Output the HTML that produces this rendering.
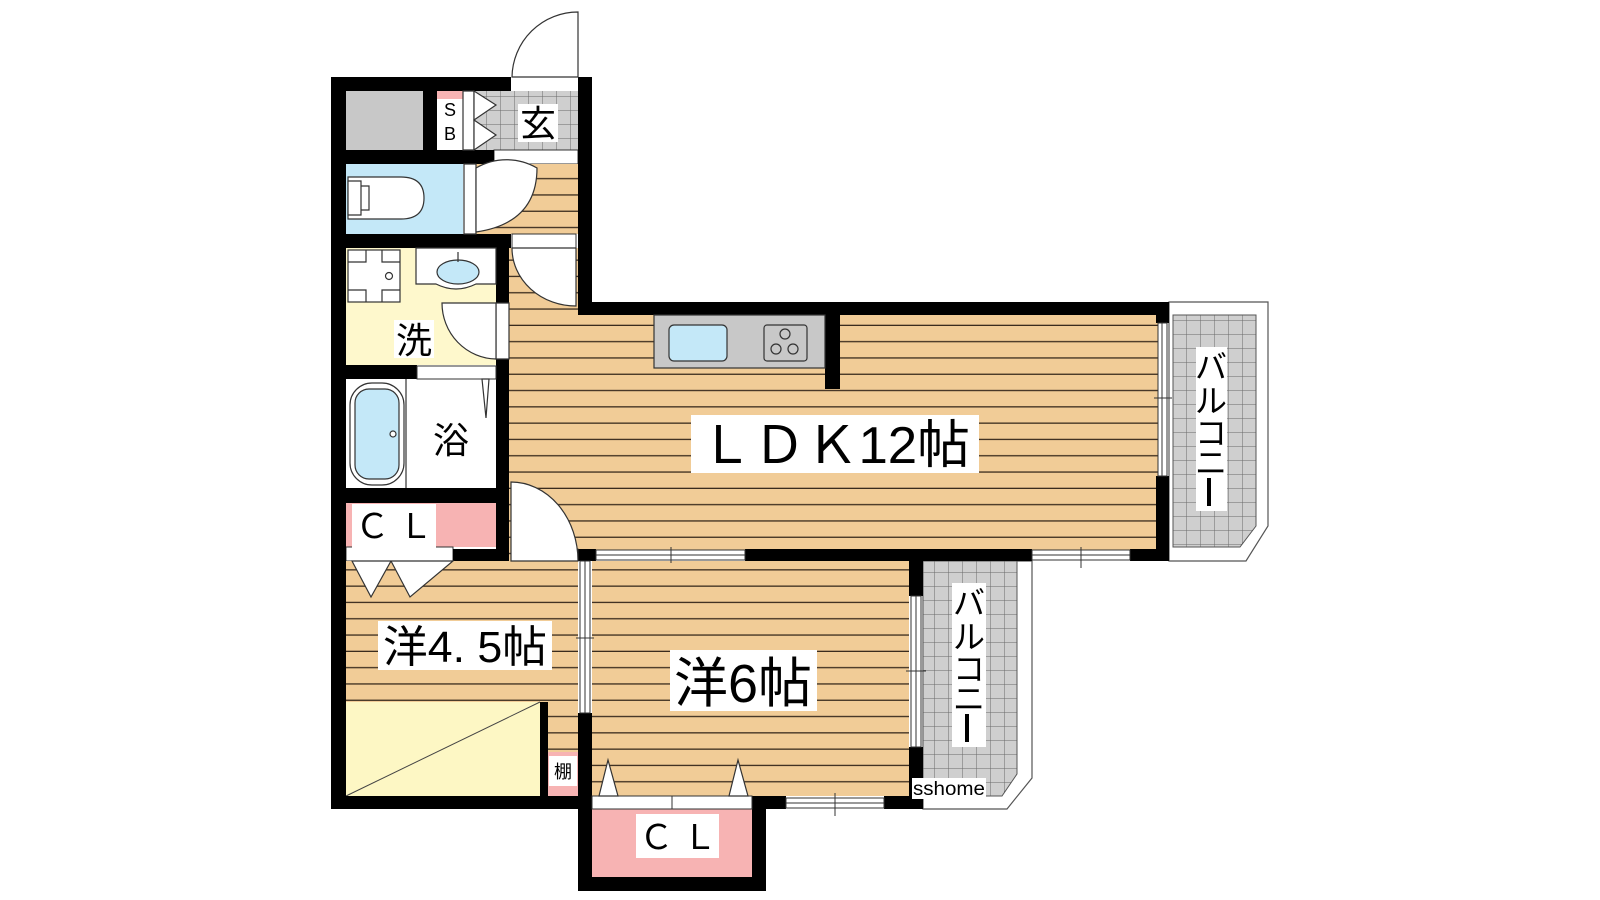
<!DOCTYPE html>
<html><head><meta charset="utf-8"><style>
html,body{margin:0;padding:0;background:#fff;}
svg{display:block}
text{font-family:"Liberation Sans","Noto Sans CJK JP",sans-serif;fill:#000}
</style></head><body>
<svg width="1600" height="900" viewBox="0 0 1600 900" xmlns="http://www.w3.org/2000/svg">
<defs>
<pattern id="wood" x="0" y="2" width="40" height="16.3" patternUnits="userSpaceOnUse">
<rect width="40" height="16.3" fill="#f1cc97"/>
<rect y="15" width="40" height="1.3" fill="#3a2c1e"/>
</pattern>
<pattern id="tile" x="0" y="0" width="14" height="14" patternUnits="userSpaceOnUse">
<rect width="14" height="14" fill="#cfcfcf"/>
<path d="M0 0H14M0 0V14" stroke="#6a6a6a" stroke-width="1" fill="none"/>
</pattern>
</defs>
<g transform="translate(-4,-2)">
<!-- floors -->
<rect x="350" y="93" width="77" height="59" fill="#c8c8c8"/>
<rect x="441" y="93" width="26" height="59" fill="#fff"/>
<rect x="441" y="93" width="26" height="8" fill="#f7b3b3"/>
<rect x="478" y="93" width="104" height="59" fill="url(#tile)"/>
<rect x="498" y="152" width="84" height="14" fill="#fff" stroke="#333" stroke-width="1"/>
<rect x="350" y="166" width="117" height="70" fill="#c4e8f8"/>
<rect x="480" y="166" width="102" height="70" fill="url(#wood)"/>
<rect x="513" y="250" width="70" height="313" fill="url(#wood)"/>
<rect x="513" y="317" width="650" height="236" fill="url(#wood)"/>
<rect x="350" y="250" width="150" height="117" fill="#fef8cc"/>
<rect x="350" y="381" width="150" height="109" fill="#fff"/>
<rect x="350" y="505" width="150" height="44" fill="#f7b3b3"/>
<rect x="350" y="549" width="107" height="14" fill="#fff" stroke="#333" stroke-width="1"/>
<rect x="350" y="563" width="232" height="235" fill="url(#wood)"/>
<rect x="596" y="563" width="317" height="235" fill="url(#wood)"/>
<rect x="350" y="704" width="194" height="94" fill="#fdf7c4"/>
<line x1="350" y1="798" x2="544" y2="704" stroke="#444" stroke-width="1"/>
<rect x="544" y="704" width="8" height="94" fill="#000"/>
<rect x="552" y="754" width="30" height="44" fill="#f7b3b3"/>
<rect x="596" y="811" width="160" height="68" fill="#f7b3b3"/>

<!-- balconies -->
<path d="M1173 304H1272V528L1250 563H1173Z" fill="#fff" stroke="#555" stroke-width="1.2"/>
<path d="M1177 317H1260V528L1244 549H1177Z" fill="url(#tile)" stroke="#555" stroke-width="1"/>
<path d="M927 563H1036V780L1011 811H927Z" fill="#fff" stroke="#555" stroke-width="1.2"/>
<path d="M927 563H1021V776L1006 798H927Z" fill="url(#tile)" stroke="#555" stroke-width="1"/>

<!-- walls -->
<g fill="#000">
<rect x="335" y="79" width="15" height="732"/>
<rect x="335" y="79" width="180" height="14"/>
<rect x="582" y="79" width="14" height="238"/>
<rect x="427" y="93" width="14" height="59"/>
<rect x="350" y="152" width="148" height="14"/>
<rect x="335" y="236" width="180" height="14"/>
<rect x="500" y="250" width="13" height="55"/>
<rect x="500" y="361" width="13" height="202"/>
<rect x="350" y="367" width="71" height="14"/>
<rect x="335" y="490" width="178" height="15"/>
<rect x="457" y="551" width="56" height="12"/>
<rect x="582" y="304" width="591" height="13"/>
<rect x="1160" y="304" width="13" height="21"/>
<rect x="1160" y="478" width="13" height="85"/>
<rect x="829" y="317" width="15" height="74"/>
<rect x="582" y="551" width="18" height="12"/>
<rect x="749" y="551" width="287" height="12"/>
<rect x="1134" y="551" width="39" height="12"/>
<rect x="913" y="563" width="14" height="35"/>
<rect x="913" y="749" width="14" height="62"/>
<rect x="582" y="715" width="14" height="96"/>
<rect x="335" y="798" width="261" height="13"/>
<rect x="756" y="798" width="34" height="13"/>
<rect x="888" y="798" width="39" height="13"/>
<rect x="582" y="811" width="14" height="82"/>
<rect x="756" y="811" width="14" height="82"/>
<rect x="582" y="879" width="188" height="14"/>
</g>

<!-- windows -->
<g fill="#fff" stroke="#333" stroke-width="1">
<rect x="1162" y="325" width="9" height="153"/>
<rect x="600" y="552" width="149" height="10"/>
<rect x="1036" y="552" width="98" height="10"/>
<rect x="584" y="563" width="10" height="152"/>
<rect x="915" y="598" width="10" height="151"/>
<rect x="790" y="800" width="98" height="10"/>
<rect x="596" y="798" width="160" height="13"/>
<rect x="421" y="368" width="79" height="13"/>
<rect x="515" y="551" width="67" height="12"/>
<rect x="516" y="236" width="64" height="14"/>
</g>
<g stroke="#333" stroke-width="1" fill="none">
<line x1="1166" y1="325" x2="1166" y2="478"/><line x1="1158" y1="400" x2="1176" y2="400"/>
<line x1="600" y1="557" x2="749" y2="557"/><line x1="675" y1="549" x2="675" y2="565"/>
<line x1="1036" y1="557" x2="1134" y2="557"/><line x1="1085" y1="549" x2="1085" y2="570"/>
<line x1="589" y1="563" x2="589" y2="715"/><line x1="580" y1="640" x2="598" y2="640"/>
<line x1="920" y1="598" x2="920" y2="749"/><line x1="910" y1="673" x2="930" y2="673"/>
<line x1="790" y1="805" x2="888" y2="805"/><line x1="839" y1="795" x2="839" y2="818"/>
<line x1="676" y1="798" x2="676" y2="811"/>
</g>

<!-- doors -->
<g fill="#fff" stroke="#333" stroke-width="1.2">
<path d="M582 79V14A66 66 0 0 0 516 79Z"/>
<path d="M467 93H478V152H467Z"/>
<path d="M478 93L500 107L478 122L500 137L478 152Z"/>
<path d="M468 166H480V236H468Z"/>
<path d="M480 170A62 64 0 0 1 541 170Q541 225 480 234Z"/>
<path d="M580 250V308A64 58 0 0 1 516 250Z"/>
<path d="M500 305H513V361H500Z"/>
<path d="M500 305H446A55 56 0 0 0 500 361Z"/>
<path d="M515 563V484A67 79 0 0 1 582 563Z"/>
<path d="M486 381L493 381L490 420Z"/>
<path d="M356 563L375 599L395 563ZM395 563L414 599L457 563Z"/>
<path d="M603 798L612 762L622 798ZM733 798L742 762L752 798Z"/>
</g>

<!-- fixtures -->
<g stroke="#333" stroke-width="1.2">
<path d="M352 179H405Q428 179 428 200Q428 221 405 221H352Z" fill="#fff"/>
<path d="M352 183H365V217H352ZM365 188H373V212H365Z" fill="#fff"/>
<rect x="352" y="252" width="52" height="52" fill="#fff"/>
<path d="M370 252V264H352M386 252V264H404M370 304V292H352M386 304V292H404" fill="none"/>
<circle cx="393" cy="278" r="3.5" fill="#fff"/>
<path d="M420 250H500V286H480Q460 296 440 286H420Z" fill="#fff"/>
<ellipse cx="462" cy="274" rx="21" ry="12" fill="#c4e8f8"/>
<line x1="462" y1="254" x2="462" y2="264"/>
<rect x="354" y="385" width="54" height="102" rx="22" fill="#fff"/>
<rect x="359" y="391" width="44" height="90" rx="14" fill="#c4e8f8"/>
<circle cx="397" cy="436" r="3" fill="#fff"/>
<line x1="410" y1="381" x2="410" y2="490"/>
<rect x="658" y="317" width="171" height="53" fill="#c8c8c8"/>
<rect x="673" y="327" width="58" height="36" rx="5" fill="#c4e8f8"/>
<rect x="768" y="327" width="43" height="36" rx="3" fill="#c8c8c8"/>
<circle cx="789" cy="336" r="5" fill="none"/><circle cx="780" cy="351" r="5" fill="none"/><circle cx="797" cy="351" r="5" fill="none"/>
</g>

<!-- labels -->
<rect x="522" y="106" width="40" height="38" fill="#fff"/>
<text x="542" y="138" font-size="36" text-anchor="middle">玄</text>
<text x="454" y="118" font-size="18" text-anchor="middle">S</text>
<text x="454" y="142" font-size="18" text-anchor="middle">B</text>
<rect x="398" y="322" width="40" height="38" fill="#fff"/>
<text x="418" y="355" font-size="36" text-anchor="middle">洗</text>
<text x="455" y="455" font-size="36" text-anchor="middle">浴</text>
<rect x="356" y="506" width="84" height="44" fill="#fff"/>
<text x="398" y="540" font-size="34" text-anchor="middle">Ｃ Ｌ</text>
<rect x="695" y="417" width="288" height="58" fill="#fff"/>
<text x="839" y="465" font-size="52" text-anchor="middle" textLength="270" lengthAdjust="spacingAndGlyphs">ＬＤＫ12帖</text>
<rect x="1200" y="349" width="31" height="164" fill="#fff"/>
<text x="1215" y="380" font-size="32" text-anchor="middle">バ</text>
<text x="1215" y="414" font-size="32" text-anchor="middle">ル</text>
<text x="1215" y="446" font-size="32" text-anchor="middle">コ</text>
<text x="1215" y="476" font-size="32" text-anchor="middle">ニ</text>
<rect x="1211" y="480" width="4" height="28" fill="#000"/>
<rect x="382" y="623" width="174" height="49" fill="#fff"/>
<text x="469" y="664" font-size="44" text-anchor="middle" textLength="164" lengthAdjust="spacingAndGlyphs">洋4. 5帖</text>
<rect x="674" y="652" width="147" height="61" fill="#fff"/>
<text x="747" y="704" font-size="54" text-anchor="middle" textLength="138" lengthAdjust="spacingAndGlyphs">洋6帖</text>
<rect x="956" y="585" width="34" height="164" fill="#fff"/>
<text x="973" y="616" font-size="32" text-anchor="middle">バ</text>
<text x="973" y="650" font-size="32" text-anchor="middle">ル</text>
<text x="973" y="682" font-size="32" text-anchor="middle">コ</text>
<text x="973" y="712" font-size="32" text-anchor="middle">ニ</text>
<rect x="969" y="716" width="4" height="28" fill="#000"/>
<rect x="916" y="780" width="74" height="21" fill="#fff"/>
<text x="953" y="797" font-size="19" text-anchor="middle" textLength="72" lengthAdjust="spacingAndGlyphs">sshome</text>
<rect x="553" y="758" width="28" height="30" fill="#fff"/>
<text x="567" y="780" font-size="18" text-anchor="middle">棚</text>
<rect x="640" y="816" width="83" height="44" fill="#fff"/>
<text x="682" y="851" font-size="34" text-anchor="middle">Ｃ Ｌ</text>
</g>
</svg>
</body></html>
